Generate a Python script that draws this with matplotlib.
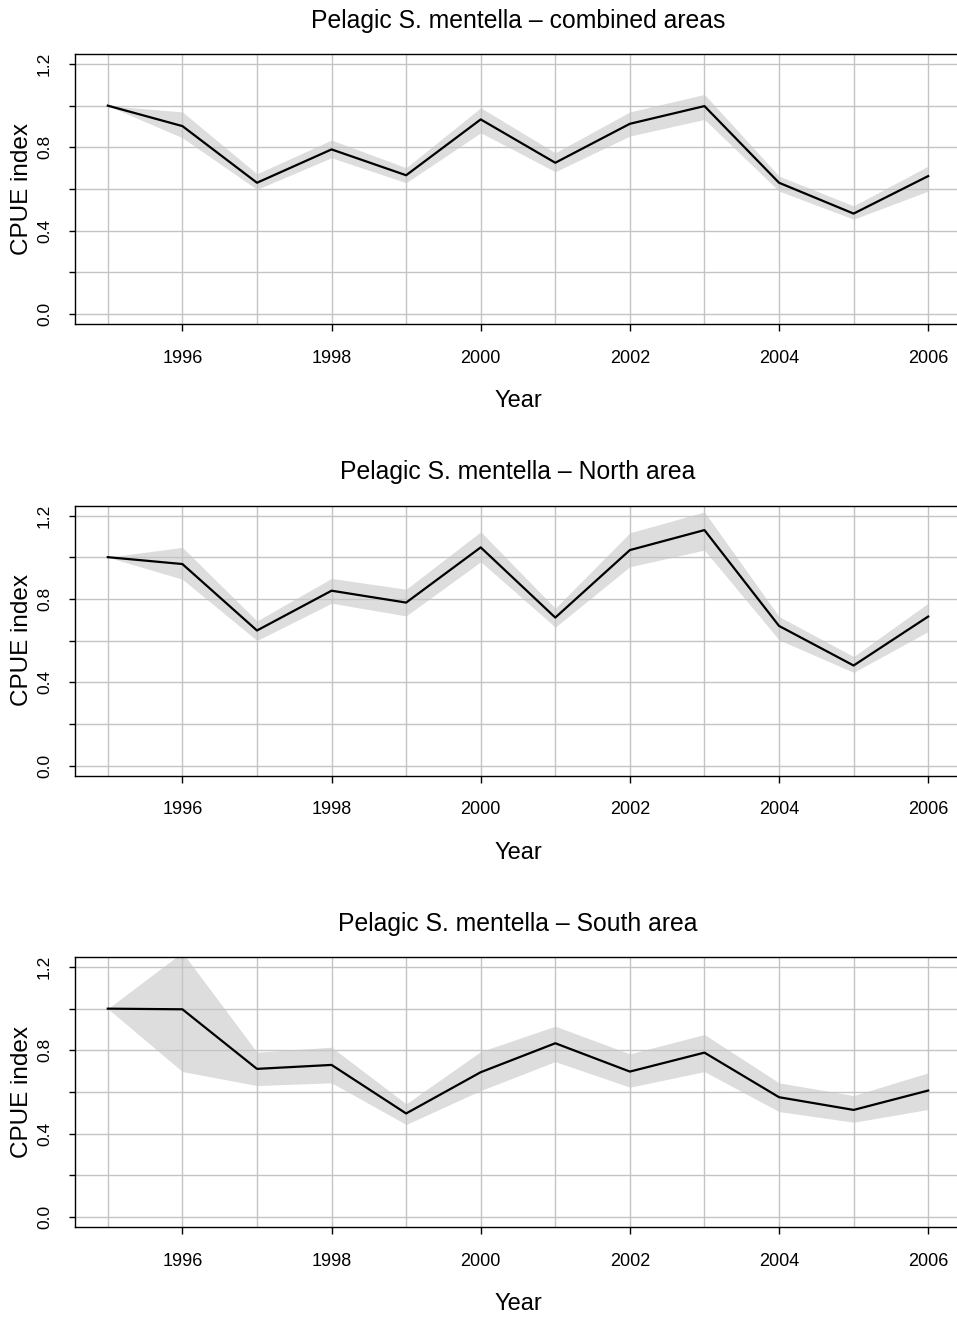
import matplotlib
matplotlib.use("Agg")
import matplotlib.pyplot as plt
import numpy as np

plt.rcParams['font.family'] = ['Liberation Sans', 'DejaVu Sans']

years = list(range(1995, 2007))

# combined areas
comb_mid = [1.0, 0.902, 0.630, 0.790, 0.666, 0.934, 0.726, 0.913, 0.998, 0.630, 0.482, 0.662]
comb_lo = [1.0, 0.846, 0.598, 0.750, 0.630, 0.870, 0.683, 0.854, 0.934, 0.590, 0.455, 0.590]
comb_hi = [1.0, 0.970, 0.673, 0.835, 0.702, 0.990, 0.774, 0.970, 1.054, 0.662, 0.519, 0.710]

# north area
north_mid = [1.0, 0.967, 0.648, 0.839, 0.782, 1.047, 0.710, 1.034, 1.130, 0.670, 0.480, 0.715]
north_lo = [1.0, 0.894, 0.600, 0.779, 0.718, 0.978, 0.664, 0.954, 1.034, 0.603, 0.447, 0.643]
north_hi = [1.0, 1.047, 0.694, 0.898, 0.846, 1.122, 0.755, 1.117, 1.217, 0.715, 0.523, 0.779]

# south area
south_mid = [1.0, 0.997, 0.711, 0.730, 0.497, 0.695, 0.834, 0.698, 0.789, 0.575, 0.514, 0.607]
south_lo = [1.0, 0.698, 0.631, 0.644, 0.444, 0.607, 0.746, 0.623, 0.698, 0.506, 0.455, 0.516]
south_hi = [1.0, 1.270, 0.791, 0.815, 0.543, 0.794, 0.916, 0.783, 0.876, 0.644, 0.583, 0.692]

titles = ["Pelagic S. mentella \u2013 combined areas",
          "Pelagic S. mentella \u2013 North area",
          "Pelagic S. mentella \u2013 South area"]
panels = [(comb_mid, comb_lo, comb_hi),
          (north_mid, north_lo, north_hi),
          (south_mid, south_lo, south_hi)]

y_ticks = [0.0, 0.2, 0.4, 0.6, 0.8, 1.0, 1.2]
y_labels = ["0.0", "", "0.4", "", "0.8", "", "1.2"]
x_ticks = [1996, 1998, 2000, 2002, 2004, 2006]

W, H = 957, 1318
fig = plt.figure(figsize=(W / 100, H / 100), dpi=100)

tops = [54, 505.5, 957]
ax_h = 270
left, right = 75, 961

for k in range(3):
    mid, lo, hi = panels[k]
    ax = fig.add_axes([left / W, 1 - (tops[k] + ax_h) / H, (right - left) / W, ax_h / H])
    ax.fill_between(years, lo, hi, color="#dddddd", lw=0, zorder=1)
    # grid on top of band
    for yr in years:
        ax.axvline(yr, color="#c4c4c4", lw=1.0, zorder=2)
    for yv in y_ticks:
        ax.axhline(yv, color="#c4c4c4", lw=1.0, zorder=2)
    ax.plot(years, mid, color="black", lw=1.6, zorder=3)

    ax.set_xlim(1994.56, 2006.44)
    ax.set_ylim(-0.048, 1.248)
    ax.set_xticks(x_ticks)
    ax.set_xticklabels([str(x) for x in x_ticks])
    ax.set_yticks(y_ticks)
    ax.set_yticklabels(y_labels, rotation=90, va="center")
    ax.tick_params(axis="x", length=5, width=1, pad=13.5, labelsize=13)
    ax.tick_params(axis="y", length=4.5, width=1, pad=12, labelsize=12.5)
    for s in ax.spines.values():
        s.set_linewidth(1.0)
    ax.set_title(titles[k], fontsize=17.8, pad=19)
    ax.set_xlabel("Year", fontsize=17, labelpad=17)
    ax.set_ylabel("CPUE index", fontsize=17.5, labelpad=3)

fig.savefig("out.png", dpi=100)
